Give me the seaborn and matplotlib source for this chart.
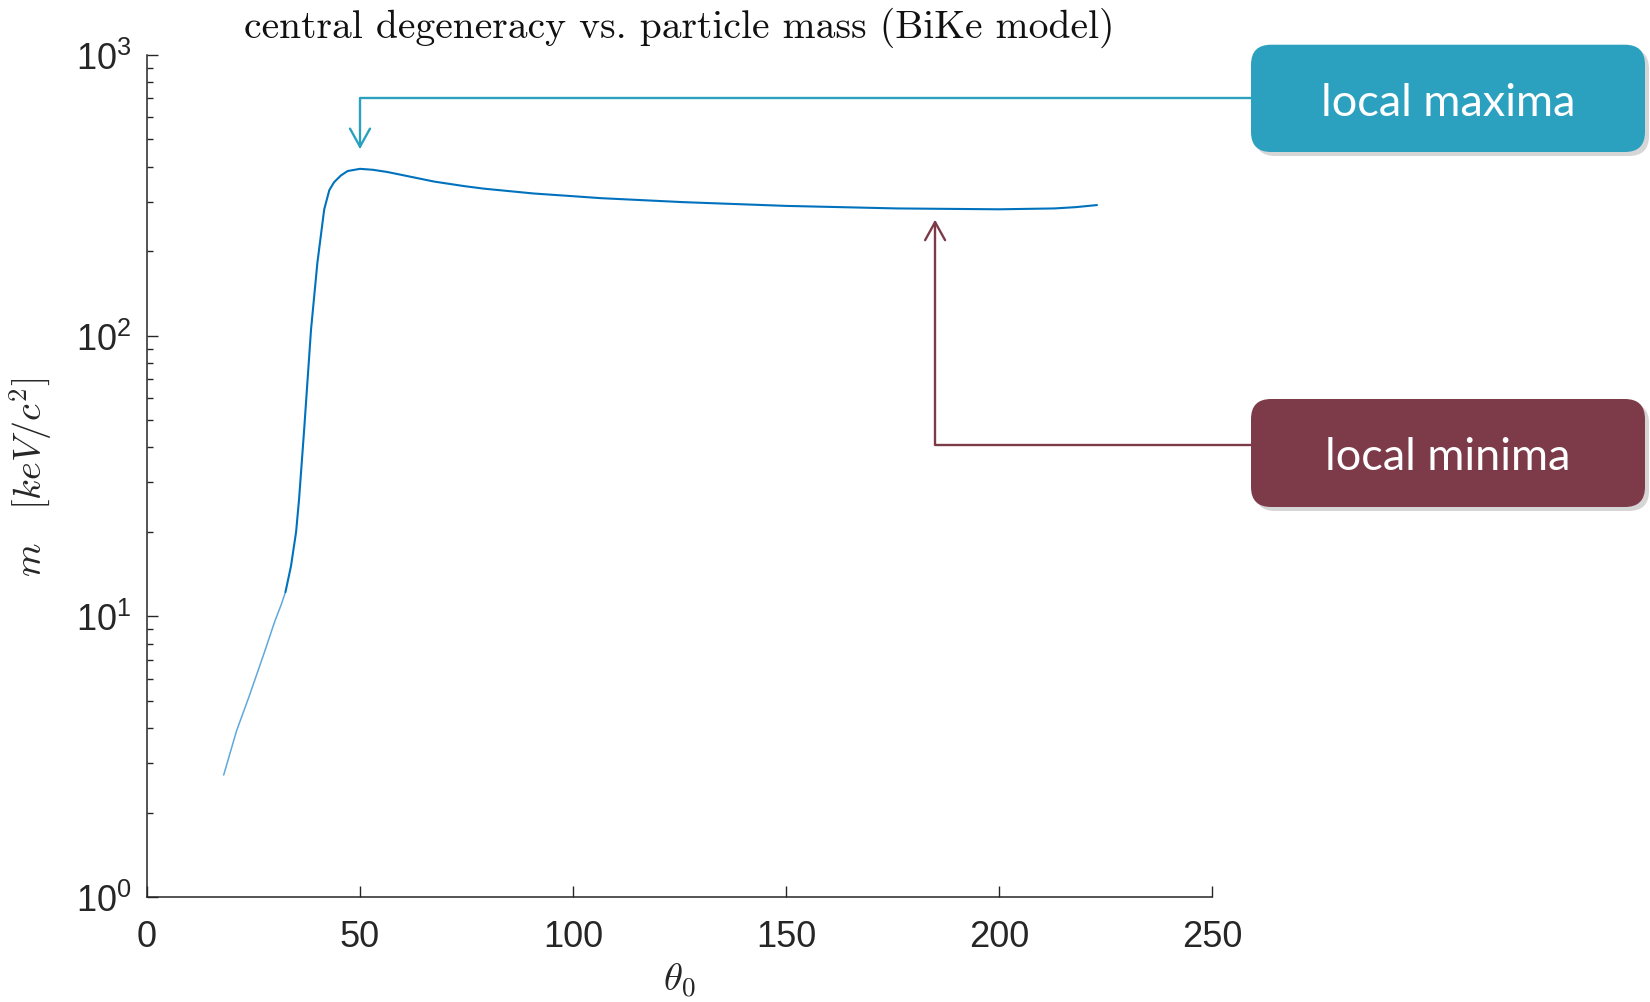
import numpy as np
import pandas as pd
import matplotlib
matplotlib.use("Agg")
import matplotlib.pyplot as plt
import seaborn as sns
from matplotlib.patches import FancyBboxPatch
from matplotlib.ticker import LogLocator, NullFormatter, FixedLocator, FixedFormatter

# ---------------- data ----------------
theta0 = [18.0, 21.0, 24.0, 27.5, 30.0, 31.5, 32.5, 33.8, 35.0, 35.7, 36.9, 38.5,
          40.0, 41.6, 42.8, 43.9, 45.5, 47.1, 50.0, 53.0, 56.4, 62.0, 67.4, 74.5,
          79.1, 90.8, 100.0, 106.5, 126.0, 150.0, 176.0, 200.0, 213.0, 218.0, 223.0]
mass = [2.72, 3.9, 5.2, 7.4, 9.6, 11.0, 12.2, 15.1, 20.0, 26.2, 46.5, 105.0,
        182.0, 282.0, 330.0, 352.0, 372.0, 386.0, 393.0, 390.0, 383.0, 368.0, 354.0, 341.0,
        334.0, 321.0, 314.0, 309.0, 299.0, 290.0, 284.0, 282.0, 284.0, 287.0, 292.0]
low_end_index = 6  # the faint lower part of the curve (first points)

x_ticks = [0, 50, 100, 150, 200, 250]
x_tick_labels = ["0", "50", "100", "150", "200", "250"]
y_ticks = [1, 10, 100, 1000]
y_tick_labels = [r"$10^{0}$", r"$10^{1}$", r"$10^{2}$", r"$10^{3}$"]

title_text = "central degeneracy vs. particle mass (BiKe model)"
xlabel_text = r"$\theta_0$"
ylabel_text = r"$m\quad[keV/c^2]$"

max_label = "local maxima"
min_label = "local minima"
max_point = (50.0, 462.0)    # arrow tip (theta0, m)
min_point = (185.0, 259.0)

# ---------------- style ----------------
sns.set_theme(style="ticks")
plt.rcParams["font.family"] = ["Liberation Sans", "DejaVu Sans"]
plt.rcParams["mathtext.fontset"] = "custom"
plt.rcParams["mathtext.rm"] = "Liberation Sans"
plt.rcParams["mathtext.it"] = "Liberation Sans:italic"
plt.rcParams["mathtext.bf"] = "Liberation Sans:bold"

axis_col = "#262626"
line_col = "#0072BD"
teal = "#2CA1BF"
maroon = "#7D3B4A"

W, H, DPI = 1650, 1003, 100
fig = plt.figure(figsize=(W / DPI, H / DPI), dpi=DPI)
fig.patch.set_facecolor("white")
ax = fig.add_axes([147 / W, 1 - 898 / H, (1212 - 147) / W, (898 - 56) / H])
ax.set_facecolor("white")

df = pd.DataFrame({"theta0": theta0, "m": mass})
df_low = df.iloc[: low_end_index + 1]
df_main = df.iloc[low_end_index:]
sns.lineplot(data=df_low, x="theta0", y="m", ax=ax, color="#5FA8DD",
             linewidth=1.1, estimator=None, sort=False)
sns.lineplot(data=df_main, x="theta0", y="m", ax=ax, color=line_col,
             linewidth=1.5, estimator=None, sort=False)

ax.set_yscale("log")
ax.set_xlim(0, 250)
ax.set_ylim(1, 1000)

ax.xaxis.set_major_locator(FixedLocator(x_ticks))
ax.xaxis.set_major_formatter(FixedFormatter(x_tick_labels))
ax.yaxis.set_major_locator(FixedLocator(y_ticks))
ax.yaxis.set_major_formatter(FixedFormatter(y_tick_labels))
ax.yaxis.set_minor_locator(LogLocator(base=10, subs=np.arange(2, 10)))
ax.yaxis.set_minor_formatter(NullFormatter())

for s in ["top", "right"]:
    ax.spines[s].set_visible(False)
for s in ["left", "bottom"]:
    ax.spines[s].set_color(axis_col)
    ax.spines[s].set_linewidth(1.1)

ax.tick_params(axis="both", which="major", direction="in", length=8, width=1.0,
               color=axis_col, labelcolor=axis_col, labelsize=26)
ax.tick_params(axis="x", which="major", pad=16)
ax.tick_params(axis="y", which="major", pad=11)
ax.tick_params(axis="y", which="minor", direction="in", length=4.3, width=1.0,
               color=axis_col)

ax.set_title(title_text, fontfamily="cmr10", fontsize=28.5, color="#111111", pad=13)
ax.set_xlabel(xlabel_text, fontsize=28, color=axis_col, math_fontfamily="cm")
ax.set_ylabel(ylabel_text, fontsize=27.5, color=axis_col, math_fontfamily="cm")
ax.xaxis.set_label_coords(0.5, -0.075)
ax.yaxis.set_label_coords(-0.086, 0.5)

# ---------------- annotation boxes ----------------
def add_box(x0, y0, w, h, color, label):
    tr = fig.dpi_scale_trans
    shadow = FancyBboxPatch((x0 + 0.04, y0 - 0.04), w, h,
                            boxstyle="round,pad=0,rounding_size=0.2",
                            transform=tr, facecolor="#000000", alpha=0.16,
                            edgecolor="none", zorder=5)
    fig.add_artist(shadow)
    box = FancyBboxPatch((x0, y0), w, h, boxstyle="round,pad=0,rounding_size=0.2",
                         transform=tr, facecolor=color, edgecolor="none", zorder=6)
    fig.add_artist(box)
    fig.text((x0 + w / 2) * DPI / W, (y0 + h / 2 - 0.04) * DPI / H, label,
             ha="center", va="center", color="white", fontsize=32.5,
             fontfamily=["Lato", "DejaVu Sans"], zorder=7)

add_box(12.51, 8.50, 3.94, 1.073, teal, max_label)
add_box(12.51, 4.95, 3.94, 1.08, maroon, min_label)

def add_arrow(tip, start_px, color):
    ax.annotate("", xy=tip, xycoords="data",
                xytext=(start_px[0], H - start_px[1]), textcoords="figure pixels",
                arrowprops=dict(arrowstyle="->,head_length=0.65,head_width=0.36",
                                mutation_scale=20, color=color, lw=1.7,
                                shrinkA=0, shrinkB=0,
                                connectionstyle="angle,angleA=0,angleB=90,rad=0"),
                annotation_clip=False, zorder=4)

add_arrow(max_point, (1252, 98.5), teal)
add_arrow(min_point, (1252, 446), maroon)

fig.savefig("out.png", dpi=DPI, facecolor="white")
